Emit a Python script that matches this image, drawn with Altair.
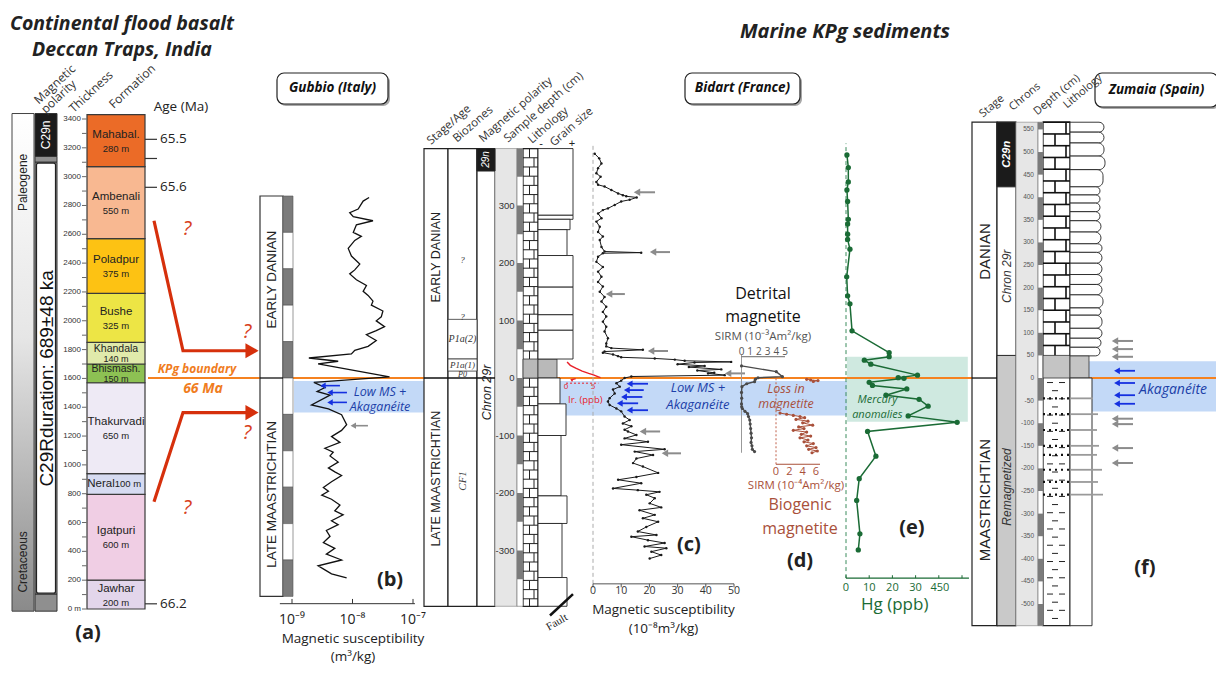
import altair as alt
import pandas as pd

# ======================= values =======================
# (a) Deccan Traps composite section, thickness in m
DECCAN_FORMATION = ["Jawhar", "Igatpuri", "Neral", "Thakurvadi", "Bhismash.",
                    "Khandala", "Bushe", "Poladpur", "Ambenali", "Mahabal."]
DECCAN_BASE_M = [0, 200, 795, 940, 1570, 1700, 1850, 2190, 2570, 3070]
DECCAN_TOP_M = [200, 795, 940, 1570, 1700, 1850, 2190, 2570, 3070, 3430]
DECCAN_THICK = ["200 m", "600 m", "100 m", "650 m", "150 m",
                "140 m", "325 m", "375 m", "550 m", "280 m"]
DECCAN_COLOR = ["#e3d6eb", "#f0cee4", "#d6dbf1", "#eeeaf5", "#8dc153",
                "#e0eaab", "#ede545", "#fdc213", "#f8b891", "#eb6b27"]
THICK_TICKS_M = list(range(0, 3401, 100))
THICK_LABELS_M = list(range(0, 3401, 200))
AGE_TICK_M = [3259, 3126, 2926, 36]
AGE_LABEL = ["65.5", "", "65.6", "66.2"]

# (b) Gubbio: height relative to KPg (m) and magnetic susceptibility (1e-9 m3/kg)
GUB_HEIGHT_M = [4.96, 4.86, 4.64, 4.54, 4.43, 4.32, 4.21, 4.00, 3.89, 3.78,
                3.56, 3.35, 3.13, 2.97, 2.86, 2.70, 2.54, 2.38, 2.27, 2.11,
                2.00, 1.84, 1.68, 1.57, 1.41, 1.30, 1.19, 1.14, 1.03, 0.87,
                0.76, 0.66, 0.55, 0.46, 0.39, 0.03, -0.12, -0.26, -0.37, -0.47,
                -0.74, -0.85, -1.01, -1.28, -1.44, -1.61, -1.77, -1.93, -2.04, -2.14,
                -2.31, -2.47, -2.58, -2.68, -2.85, -3.01, -3.11, -3.22, -3.33, -3.49,
                -3.65, -3.76, -3.92, -4.03, -4.19, -4.35, -4.52, -4.68, -4.84, -5.00,
                -5.16, -5.27, -5.38, -5.49]
GUB_MS_E9 = [18.8, 15.0, 12.4, 9.0, 10.3, 21.8, 11.6, 10.3, 14.0, 10.9,
             8.5, 9.6, 13.2, 10.9, 9.0, 11.6, 17.0, 15.0, 18.1, 21.8,
             20.5, 31.8, 29.9, 24.7, 33.9, 24.7, 17.0, 19.0, 24.7, 18.1,
             10.9, 9.6, 1.9, 5.8, 2.7, 40.9, 2.3, 3.5, 2.6, 4.25,
             2.1, 4.0, 6.6, 8.0, 6.6, 4.5, 6.2, 3.5, 4.8, 4.25,
             5.8, 4.0, 5.1, 6.6, 4.5, 3.3, 4.0, 3.1, 4.5, 6.2,
             5.1, 7.0, 4.5, 5.8, 3.7, 4.25, 3.3, 5.1, 3.7, 6.6,
             2.7, 3.5, 4.5, 8.0]

# (c) Bidart: sample depth (cm) and MS (1e-8 m3/kg)
BID_DEPTH_CM = [390, 382, 373, 365, 356, 350, 341, 336, 333, 327,
                321, 318, 316, 314, 310, 307, 301, 295, 292, 286,
                278, 272, 263, 254, 246, 240, 228, 220, 218, 217,
                211, 202, 193, 185, 176, 167, 159, 150, 141, 133,
                124, 115, 107, 98, 89, 81, 69, 60, 55, 52,
                49, 46, 44, 41, 38, 36, 34, 32, 30, 28,
                27, 24, 21, 19, 15, 13, 9, 8, 5, 2.6,
                0, -4.6, -9, -15, -20, -27, -35, -41, -47, -53,
                -58, -67, -73, -79, -84, -90, -93, -99, -105, -111,
                -116, -124, -128, -134, -140, -148, -154, -165, -172, -177,
                -183, -192, -195, -198, -203, -209, -218, -225, -230, -238,
                -244, -250, -259, -267, -273, -276, -282, -287, -293, -296,
                -302, -308, -314]
BID_MS = [0.6, 2.2, 3.0, 1.8, 1.2, 2.7, 1.2, 1.8, 4.1, 6.5,
          8.9, 10.6, 11.8, 15.5, 13.0, 10.0, 7.7, 5.3, 3.5, 1.8,
          3.0, 1.2, 2.4, 1.8, 3.5, 2.4, 3.0, 4.1, 17.1, 3.5,
          1.8, 1.2, 3.5, 1.8, 3.0, 1.8, 3.5, 2.4, 4.1, 3.0,
          4.7, 3.5, 4.7, 3.5, 4.7, 4.1, 5.3, 4.7, 4.7, 6.5,
          17.7, 4.1, 3.5, 7.1, 8.9, 10.0, 21.9, 29.0, 32.5, 49.0,
          36.0, 30.0, 39.6, 34.0, 45.5, 37.0, 43.0, 40.8, 46.7, 13.6,
          11.2, 10.0, 8.3, 9.5, 7.1, 7.7, 5.9, 5.3, 5.9, 8.3,
          10.0, 11.2, 13.0, 10.6, 13.6, 11.2, 12.4, 15.4, 11.2, 19.5,
          10.0, 25.4, 14.8, 21.3, 15.4, 14.2, 17.7, 23.1, 15.4, 8.9,
          17.1, 7.1, 15.9, 23.6, 18.9, 21.9, 20.1, 24.2, 16.5, 21.9,
          17.7, 23.1, 18.9, 15.9, 22.5, 13.6, 19.5, 25.4, 18.3, 26.0,
          20.7, 24.2, 20.1]

# Iridium (ppb) near the boundary
IR_DEPTH = [28, 22, 17, 12, 8, 5, 2, 0.5, -1, -3, -6]
IR_PPB = [0.2, 0.8, 1.8, 3.0, 4.2, 5.2, 6.0, 6.4, 1.8, 1.0, 1.2]
IR_GROUP = ["a"] * 8 + ["b"] * 3

# (d) SIRM of detrital (1e-3 Am2/kg) and biogenic (1e-4 Am2/kg) magnetite
DET_DEPTH = [21, 11, 2.3, 0.5, -2, -6.4, -10, -15, -25, -35, -45, -50, -53,
             -58, -62, -67, -73, -80, -88, -96, -104, -112, -118, -124, -128]
DET_SIRM = [0.0, 4.0, 4.7, 1.9, 1.6, 1.5, 0.6, 0.05, 0.0, 0.02, 0.0, 0.02, 0.1,
            0.4, 0.7, 0.8, 0.95, 1.0, 1.05, 1.1, 1.15, 1.1, 1.2, 1.25, 1.5]
BIO_DEPTH = [-2.3, -3.5, -4.5, -6, -61, -63, -65, -67, -69, -72, -75, -78, -82, -85,
             -88, -91, -94, -98, -101, -104, -108, -111, -114, -118, -121, -124, -127, -130]
BIO_SIRM = [4.6, 5.2, 6.3, 5.6, 0.6, 1.6, 2.6, 3.6, 4.3, 3.0, 4.8, 4.0, 5.5, 3.4,
            4.2, 2.6, 4.6, 3.8, 5.2, 3.6, 4.8, 4.2, 5.6, 4.6, 6.0, 4.9, 6.2, 5.4]
BIO_GROUP = ["top"] * 4 + ["low"] * 24

# (e) Hg (ppb)
HG_DEPTH = [388, 366, 341, 327, 307, 276, 268, 250, 241, 224, 176, 143, 129, 82,
            44, 37, 31, 24, 5, 0.6, -0.6, -7.5, -13, -19, -30, -37, -49, -66, -77,
            -93, -136, -175, -213, -271, -299]
HG_PPB = [0.4, 1.0, 1.0, 0.4, 0.7, 1.0, 0.7, 0.7, 0.7, 1.7, 0.3, 0.7, 1.7, 2.6,
          18.6, 18.6, 7.9, 10.7, 30.8, 22.5, 25.0, 10.0, 11.4, 26.2, 17.2, 31.5, 35.4, 26.8, 47.9,
          9.3, 12.9, 5.7, 4.6, 6.0, 5.3]

# arrows (tip value, tail value, depth)
G_BLUE_TIP, G_BLUE_TAIL, G_BLUE_H = [3.25, 4.25, 4.25], [6.2, 8.1, 8.1], [-0.21, -0.40, -0.67]
G_GRAY_TIP, G_GRAY_TAIL, G_GRAY_H = [10.3], [18.0], [-1.31]
C_GRAY_TIP = [15.6, 21.3, 5.7, 20.6, 47.9, 17.7, 25.5]
C_GRAY_TAIL = [22.0, 27.3, 11.3, 26.6, 53.9, 23.8, 31.2]
C_GRAY_D = [323, 219, 146, 47, 8, -93, -131]
C_BLUE_TIP = [13, 12, 11, 9.5, 13]
C_BLUE_TAIL = [19.5, 18, 17.5, 16, 19.5]
C_BLUE_D = [-10, -21, -33, -44, -56]
Z_GRAY_D = [82, 64, 47, -90, -102, -155, -188]
Z_BLUE_D = [16, -11, -38, -57]

# stratigraphic columns
GUB_POL_TOP = [5, 4, 3, 2, 1, 0, -1, -2, -3, -4, -5]
BID_BAR_TOP = [399, 300, 200, 100, 0, -100, -200, -300]
BID_BAR_BASE = [350, 250, 150, 50, -50, -150, -250, -350]
BID_GRAIN_TOP = [399, 283, 276, 258, 213, 158, 110, 83, 0, -45, -100, -205, -253, -347]
BID_GRAIN_BASE = [283, 276, 258, 213, 158, 110, 83, 33, -45, -100, -205, -253, -347, -397]
BID_GRAIN_EDGE = [573, 573, 570, 567, 573, 573, 573, 573, 560, 566, 561, 567, 562, 567]
BID_DEPTH_LABELS = [300, 200, 100, 0, -100, -200, -300]
ZUM_BAR_TOP = [566, 500, 400, 300, 200, 100, 0, -100, -200, -300, -400, -500]
ZUM_BAR_BASE = [550, 450, 350, 250, 150, 50, -50, -150, -250, -350, -450, -548]
ZUM_BED_TOP = [566, 544, 520, 491, 461, 423, 405, 387, 368, 348, 323, 297, 278, 254,
               229, 207, 184, 155, 139, 110, 88, 68]
ZUM_BED_BASE = [544, 520, 491, 461, 423, 405, 387, 368, 348, 323, 297, 278, 254, 229,
                207, 184, 155, 139, 110, 88, 68, 49]
ZUM_BED_EDGE = [1104, 1104, 1104, 1105, 1103, 1100, 1100, 1100, 1100, 1101, 1101, 1102,
                1102, 1102, 1102, 1102, 1103, 1101, 1102, 1102, 1101, 1100]
ZUM_THIN_BEDS = [-45, -80, -115, -150, -170, -203, -230, -258]
ZUM_THIN_EDGE = [1093, 1098, 1097, 1099, 1097, 1102, 1098, 1103]
ZUM_DEPTH_LABELS = list(range(550, -501, -50))

# ======================= helpers =======================
def P(v):
    return v - 8


def sc(dom, rng, typ="linear"):
    return alt.Scale(type=typ, domain=list(dom), range=[P(rng[0]), P(rng[1])],
                     nice=False, zero=False)


TX = sc([0, 1224], [0, 1224])          # track positions across the figure
YA = sc([0, 3400], [609, 119])         # Deccan thickness (m)
YG = sc([-6, 5], [596.4, 196])         # Gubbio height (m)
YB = sc([-400, 400], [608, 148])       # Bidart depth (cm)
YZ = sc([-550, 570], [626.6, 120.4])   # Zumaia depth (cm)
XG = sc([1, 100], [292, 413], "log")   # MS Gubbio (1e-9)
XC = sc([0, 50], [593, 734])           # MS Bidart
XD1 = sc([0, 5], [741.5, 785])         # SIRM detrital
XD2 = sc([0, 6], [776, 816])           # SIRM biogenic
XE = sc([0, 50], [846, 962])           # Hg
XIR = sc([0, 5], [566, 593])           # Ir

OPEN = "Open Sans"
ARIAL = "Liberation Sans"
SERIF = "Liberation Serif"


def _x(f, s):
    return alt.X(f"{f}:Q", scale=s, axis=None)


def _y(f, s):
    return alt.Y(f"{f}:Q", scale=s, axis=None)


def rects(df, xs, ys, **mk):
    enc = dict(x=_x("x", xs), x2=alt.X2("x2:Q"), y=_y("y", ys), y2=alt.Y2("y2:Q"))
    if "fill" in df.columns:
        enc["fill"] = alt.Fill("fill:N", scale=None)
    return alt.Chart(df).mark_rect(**mk).encode(**enc)


def rules(df, xs, ys, **mk):
    enc = dict(x=_x("x", xs), y=_y("y", ys))
    if "x2" in df.columns:
        enc["x2"] = alt.X2("x2:Q")
    if "y2" in df.columns:
        enc["y2"] = alt.Y2("y2:Q")
    return alt.Chart(df).mark_rule(**mk).encode(**enc)


def lines(df, xs, ys, **mk):
    enc = dict(x=_x("x", xs), y=_y("y", ys), order=alt.Order("i:Q"))
    if "g" in df.columns:
        enc["detail"] = alt.Detail("g:N")
    return alt.Chart(df).mark_line(**mk).encode(**enc)


def dots(df, xs, ys, **mk):
    return alt.Chart(df).mark_point(**mk).encode(x=_x("x", xs), y=_y("y", ys))


def texts(df, xs, ys, **mk):
    enc = dict(x=_x("x", xs), y=_y("y", ys), text=alt.Text("t:N"))
    if "s" in df.columns:
        enc["size"] = alt.Size("s:Q", scale=None)
    if "a" in df.columns:
        enc["angle"] = alt.Angle("a:Q", scale=None)
    return alt.Chart(df).mark_text(**mk).encode(**enc)


def D(**cols):
    return pd.DataFrame(cols)


def arrows(tips, tails, yv, xs, ys, color, width=1.6, head=45):
    df = D(x=tips, x2=tails, y=yv)
    return [rules(df, xs, ys, color=color, strokeWidth=width),
            dots(D(x=tips, y=yv), xs, ys, shape="triangle-left", filled=True,
                 size=head, color=color, opacity=1, strokeWidth=0)]


def profile(xv, yv, xs, ys, color, width=1.0, pt=0, group=None):
    d = D(x=xv, y=yv, i=list(range(len(xv))))
    if group is not None:
        d["g"] = group
    out = [lines(d, xs, ys, color=color, strokeWidth=width)]
    if pt:
        out.append(dots(d[["x", "y"]], xs, ys, filled=True, size=pt, color=color,
                        opacity=1, strokeWidth=0, shape="circle"))
    return out


L = []

# ======================= background bands =======================
L.append(rects(D(x=[294], x2=[425], y=[-0.95], y2=[-0.08], fill=["#c3d9f7"]), TX, YG))
L.append(rects(D(x=[548], x2=[847], y=[-65], y2=[-5], fill=["#c3d9f7"]), TX, YB))
L.append(rects(D(x=[0.4], x2=[52.5], y=[-76], y2=[37], fill=["#cfe9e0"]), XE, YB))
L.append(rects(D(x=[1088], x2=[1217], y=[-74], y2=[37], fill=["#c3d9f7"]), TX, YZ))

# KPg boundary line
L.append(rules(D(x=[148], x2=[1217], y=[0]), TX, YB, color="#f58220", strokeWidth=1.8))

# ======================= (a) Deccan Traps =======================
grad = alt.LinearGradient(gradient="linear",
                          stops=[alt.GradientStop(color="#ffffff", offset=0),
                                 alt.GradientStop(color="#e6e6e6", offset=0.45),
                                 alt.GradientStop(color="#8a8a8a", offset=1)],
                          x1=0, x2=0, y1=0, y2=1)
L.append(alt.Chart(D(x=[12], x2=[34], y=[-15], y2=[3438])).mark_rect(
    fill=grad, stroke="#444", strokeWidth=1).encode(
    x=_x("x", TX), x2=alt.X2("x2:Q"), y=_y("y", YA), y2=alt.Y2("y2:Q")))
L.append(rects(D(x=[35] * 4, x2=[57] * 4, y=[3140, 3100, -15, 104], y2=[3438, 3140, 104, 3100],
                 fill=["#1b1b1b", "#8f8f8f", "#8f8f8f", "#8f8f8f"]), TX, YA,
               stroke="#333", strokeWidth=1))
L.append(rects(D(x=[36.5], x2=[55.5], y=[110], y2=[3094], fill=["#ffffff"]), TX, YA,
               stroke="#222", strokeWidth=1.2, cornerRadius=2))
L.append(rects(D(x=[87] * 10, x2=[145] * 10, y=DECCAN_BASE_M, y2=DECCAN_TOP_M,
                 fill=DECCAN_COLOR), TX, YA, stroke="#3a3a3a", strokeWidth=1.2))

name_rows, thick_rows = [], []
for n, b, t, th in zip(DECCAN_FORMATION, DECCAN_BASE_M, DECCAN_TOP_M, DECCAN_THICK):
    mid = (b + t) / 2
    if n == "Neral":
        name_rows.append((101, mid, n, 11.5))
        thick_rows.append((128, mid, th, 9.5))
    elif t - b < 200:
        name_rows.append((116, mid + 30, n, 10.5))
        thick_rows.append((116, mid - 40, th, 9))
    else:
        name_rows.append((116, mid + 42, n, 11.5))
        thick_rows.append((116, mid - 55, th, 9.5))
L.append(texts(pd.DataFrame(name_rows, columns=["x", "y", "t", "s"]), TX, YA,
               font=ARIAL, color="#222"))
L.append(texts(pd.DataFrame(thick_rows, columns=["x", "y", "t", "s"]), TX, YA,
               font=ARIAL, color="#222"))

L.append(rules(D(x=[82] * len(THICK_TICKS_M), x2=[86.5] * len(THICK_TICKS_M), y=THICK_TICKS_M),
               TX, YA, color="#555", strokeWidth=0.9))
L.append(texts(D(x=[81] * len(THICK_LABELS_M), y=THICK_LABELS_M,
                 t=["0 m" if v == 0 else str(v) for v in THICK_LABELS_M]),
               TX, YA, align="right", fontSize=8, font=ARIAL, color="#333"))
L.append(rules(D(x=[145] * 4, x2=[157] * 4, y=AGE_TICK_M), TX, YA, color="#333", strokeWidth=1.2))
L.append(texts(D(x=[160] * 3, y=[AGE_TICK_M[i] for i in (0, 2, 3)],
                 t=[AGE_LABEL[i] for i in (0, 2, 3)]), TX, YA,
               align="left", fontSize=13.5, font=OPEN, color="#222"))
L.append(texts(D(x=[181], y=[3480], t=["Age (Ma)"]), TX, YA, fontSize=13.5, font=OPEN, color="#222"))
L.append(texts(D(x=[23, 23], y=[2960, 327], t=["Paleogene", "Cretaceous"]), TX, YA,
               angle=270, fontSize=12, font=ARIAL, color="#222"))
L.append(texts(D(x=[46], y=[3290], t=["C29n"]), TX, YA, angle=270, fontSize=12, font=ARIAL, color="white"))
L.append(texts(D(x=[46.5], y=[1600], t=["C29Rduration: 689±48 ka"]), TX, YA, angle=270,
               fontSize=19, font=ARIAL, color="#111"))
L.append(texts(D(x=[36, 43, 71, 111], y=[3520, 3455, 3460, 3490],
                 t=["Magnetic", "polarity", "Thickness", "Formation"]), TX, YA,
               angle=317, align="left", fontSize=12, font=OPEN, color="#333"))
L.append(texts(D(x=[197], y=[1667], t=["KPg boundary"]), TX, YA, fontSize=12,
               font=OPEN, fontWeight="bold", fontStyle="italic", color="#f07d1e"))
L.append(texts(D(x=[203], y=[1525], t=["66 Ma"]), TX, YA, fontSize=14,
               font=OPEN, fontWeight="bold", fontStyle="italic", color="#f07d1e"))
L += profile([154, 183, 249, 154, 183, 249], [2694, 1792, 1792, 744, 1363, 1363], TX, YA,
             "#d6300c", width=3.2, group=["u", "u", "u", "l", "l", "l"])
L.append(dots(D(x=[252, 252], y=[1792, 1363]), TX, YA, shape="triangle-right", filled=True,
              size=230, color="#d6300c", opacity=1, strokeWidth=0))
L.append(texts(D(x=[187, 247, 247, 187], y=[2635, 1920, 1220, 700], t=["?"] * 4), TX, YA,
               fontSize=20, font=OPEN, fontStyle="italic", color="#d8401c"))
L.append(texts(D(x=[122, 122], y=[4060, 3877],
                 t=["Continental flood basalt", "Deccan Traps, India"]), TX, YA,
               fontSize=19.5, font=OPEN, fontWeight="bold", fontStyle="italic", color="#222"))
L.append(texts(D(x=[88], y=[-165], t=["(a)"]), TX, YA, fontSize=20, font=OPEN,
               fontWeight="bold", color="#222"))

# ======================= (b) Gubbio =======================
L.append(rects(D(x=[260], x2=[283], y=[-6], y2=[5], fill=["#ffffff"]), TX, YG,
               stroke="#333", strokeWidth=1.2))
L.append(rects(D(x=[283] * 11, x2=[293] * 11, y=[t - 1 for t in GUB_POL_TOP], y2=GUB_POL_TOP,
                 fill=["#7b7b7b" if k % 2 == 0 else "#ffffff" for k in range(11)]), TX, YG,
               stroke="#555", strokeWidth=0.6))
L.append(rules(D(x=[260], x2=[283], y=[0]), TX, YG, color="#111", strokeWidth=1.3))
L.append(texts(D(x=[271.5, 271.5], y=[2.7, -3.2], t=["EARLY DANIAN", "LATE MAASTRICHTIAN"]),
               TX, YG, angle=270, fontSize=13.5, font=ARIAL, color="#222"))
L += profile([v for v in GUB_MS_E9], GUB_HEIGHT_M, XG, YG, "#111", width=1.3)
L += arrows(G_BLUE_TIP, G_BLUE_TAIL, G_BLUE_H, XG, YG, "#1530e0", width=1.6, head=40)
L += arrows(G_GRAY_TIP, G_GRAY_TAIL, G_GRAY_H, XG, YG, "#8c8c8c", width=1.6, head=40)
L.append(texts(D(x=[380, 380], y=[-0.38, -0.80], t=["Low MS +", "Akaganéite"]), TX, YG,
               fontSize=12.5, font=OPEN, fontStyle="italic", color="#1c3fa8"))
L.append(texts(D(x=[390], y=[-5.54], t=["(b)"]), TX, YG, fontSize=20, font=OPEN,
               fontWeight="bold", color="#222"))
L.append(rules(D(x=[0.63], x2=[107.7], y=[-6.2]), XG, YG, color="#333", strokeWidth=1))
L.append(rules(D(x=[1, 10, 100], y=[-6.2] * 3, y2=[-6.07] * 3), XG, YG, color="#333", strokeWidth=1))
L.append(texts(D(x=[1, 10, 100], y=[-6.65] * 3, t=["10⁻⁹", "10⁻⁸", "10⁻⁷"]), XG, YG,
               fontSize=14, font=OPEN, color="#222"))
L.append(texts(D(x=[353, 353], y=[-7.17, -7.66], t=["Magnetic susceptibility", "(m³/kg)"]),
               TX, YG, fontSize=13.5, font=OPEN, color="#222"))

# title boxes (Bidart depth scale used as vertical track above the sections)
BOX_X = [277, 685, 1095]
BOX_X2 = [388, 800, 1218]
BOX_Y = [476.5, 476.5, 471.3]
BOX_Y2 = [530.4, 530.4, 530.4]
L.append(rects(D(x=[v + 2 for v in BOX_X], x2=[v + 2 for v in BOX_X2], y=[v - 3.5 for v in BOX_Y],
                 y2=[v - 3.5 for v in BOX_Y2], fill=["#a8a8a8"] * 3), TX, YB, cornerRadius=7))
L.append(rects(D(x=BOX_X, x2=BOX_X2, y=BOX_Y, y2=BOX_Y2, fill=["#ffffff"] * 3), TX, YB,
               cornerRadius=7, stroke="#222", strokeWidth=1.2))
L.append(texts(D(x=[332.5, 742.5, 1156.5], y=[503.5, 503.5, 501],
                 t=["Gubbio (Italy)", "Bidart (France)", "Zumaia (Spain)"]), TX, YB,
               fontSize=13.5, font=OPEN, fontWeight="bold", fontStyle="italic", color="#111"))
L.append(texts(D(x=[845], y=[601.7], t=["Marine KPg sediments"]), TX, YB,
               fontSize=20, font=OPEN, fontWeight="bold", fontStyle="italic", color="#222"))

# ======================= Bidart stratigraphic log =======================
L.append(rects(D(x=[424, 448, 477, 523], x2=[448, 477, 495, 538], y=[-397] * 4, y2=[399] * 4,
                 fill=["#ffffff"] * 4), TX, YB, stroke="#222", strokeWidth=1.2))
L.append(rects(D(x=[495], x2=[517], y=[-397], y2=[399], fill=["#e6e6e6"]), TX, YB,
               stroke="#999", strokeWidth=0.8))
L.append(rects(D(x=[517], x2=[523], y=[-397], y2=[399], fill=["#ffffff"]), TX, YB,
               stroke="#666", strokeWidth=0.6))
L.append(rects(D(x=[517] * len(BID_BAR_TOP), x2=[523] * len(BID_BAR_TOP), y=BID_BAR_BASE,
                 y2=BID_BAR_TOP, fill=["#7b7b7b"] * len(BID_BAR_TOP)), TX, YB))
L.append(rects(D(x=[477], x2=[495], y=[360], y2=[399], fill=["#1b1b1b"]), TX, YB,
               stroke="#222", strokeWidth=1))
L.append(rects(D(x=[448, 448], x2=[477, 477], y=[33, 12], y2=[102, 33], fill=["#ffffff"] * 2),
               TX, YB, stroke="#333", strokeWidth=0.8))
L.append(rules(D(x=[424], x2=[495], y=[0]), TX, YB, color="#111", strokeWidth=1.3))
# limestone bricks
brick_h, brick_v = [], []
for seg_top, seg_bot in ((399, 33), (0, -397)):
    rows = list(range(seg_top, seg_bot, -16))
    for k, top in enumerate(rows):
        bot = rows[k + 1] if k + 1 < len(rows) else seg_bot
        brick_h.append((523, 538, top))
        xv = 529.5 if k % 2 == 0 else 534
        brick_v.append((xv, top, bot))
L.append(rules(pd.DataFrame(brick_h, columns=["x", "x2", "y"]), TX, YB, color="#222", strokeWidth=1))
L.append(rules(pd.DataFrame(brick_v, columns=["x", "y", "y2"]), TX, YB, color="#222", strokeWidth=1))
L.append(rects(D(x=[523, 538], x2=[538, 557], y=[0, 0], y2=[33, 33], fill=["#b9b9b9"] * 2), TX, YB,
               stroke="#333", strokeWidth=0.8))
L.append(rects(D(x=[538] * len(BID_GRAIN_TOP), x2=BID_GRAIN_EDGE, y=BID_GRAIN_BASE,
                 y2=BID_GRAIN_TOP, fill=["#ffffff"] * len(BID_GRAIN_TOP)), TX, YB,
               stroke="#222", strokeWidth=0.9))
L.append(texts(D(x=[436, 436], y=[210, -175], t=["EARLY DANIAN", "LATE MAASTRICHTIAN"]), TX, YB,
               angle=270, fontSize=12.5, font=ARIAL, color="#222"))
L.append(texts(D(x=[462.5] * 5, y=[205, 106, 68, 23, 5], t=["?", "?", "P1a(2)", "P1a(1)", "P0"],
                 s=[9, 9, 10, 9, 8]), TX, YB, font=SERIF, fontStyle="italic", color="#333"))
L.append(texts(D(x=[462.5], y=[-179], t=["CF1"]), TX, YB, angle=270, fontSize=11, font=SERIF,
               fontStyle="italic", color="#444"))
L.append(texts(D(x=[486], y=[380], t=["29n"]), TX, YB, angle=270, fontSize=10, font=ARIAL,
               fontStyle="italic", color="white"))
L.append(texts(D(x=[486.5], y=[-25], t=["Chron 29r"]), TX, YB, angle=270, fontSize=12.5,
               font=ARIAL, fontStyle="italic", color="#222"))
L.append(texts(D(x=[514.5] * len(BID_DEPTH_LABELS), y=BID_DEPTH_LABELS,
                 t=[str(v) for v in BID_DEPTH_LABELS]), TX, YB, align="right", fontSize=9.5,
               font=ARIAL, color="#333"))
L.append(texts(D(x=[541, 572], y=[407, 407], t=["-", "+"]), TX, YB, fontSize=11, font=ARIAL, color="#222"))
L.append(texts(D(x=[429, 455, 481, 506, 530, 552], y=[409, 413, 413, 413, 411, 406],
                 t=["Stage/Age", "Biozones", "Magnetic polarity", "Sample depth (cm)",
                    "Lithology", "Grain size"]), TX, YB, angle=319, align="left", fontSize=11.5,
               font=OPEN, color="#333"))
L.append(rules(D(x=[550], x2=[573], y=[-413], y2=[-376]), TX, YB, color="#111", strokeWidth=2.5))
L.append(texts(D(x=[557], y=[-425], t=["Fault"]), TX, YB, angle=330, fontSize=11, font=SERIF, color="#222"))
# iridium
L += profile(IR_PPB, IR_DEPTH, XIR, YB, "#e8202a", width=1.4, group=IR_GROUP)
L.append(rules(D(x=[0], x2=[6], y=[-9]), XIR, YB, color="#e8202a", strokeWidth=1, strokeDash=[2, 2]))
L.append(texts(D(x=[0, 5], y=[-16, -16], t=["0", "5"]), XIR, YB, fontSize=8, font=OPEN, color="#e8202a"))
L.append(texts(D(x=[568], y=[-39], t=["Ir. (ppb)"]), TX, YB, align="left", fontSize=9.5, font=OPEN,
               color="#e8202a"))

# ======================= (c) Bidart MS =======================
L.append(rules(D(x=[0], y=[-358], y2=[408]), XC, YB, color="#aaaaaa", strokeWidth=1, strokeDash=[4, 3]))
L += profile(BID_MS, BID_DEPTH_CM, XC, YB, "#1a1a1a", width=1.0, pt=6)
L += arrows(C_GRAY_TIP, C_GRAY_TAIL, C_GRAY_D, XC, YB, "#8c8c8c", width=2, head=55)
L += arrows(C_BLUE_TIP, C_BLUE_TAIL, C_BLUE_D, XC, YB, "#1530e0", width=1.8, head=45)
L.append(texts(D(x=[37.2, 37.2], y=[-18, -47], t=["Low MS +", "Akaganéite"]), XC, YB,
               fontSize=13, font=OPEN, fontStyle="italic", color="#1c3fa8"))
L.append(rules(D(x=[0], x2=[50], y=[-358]), XC, YB, color="#555", strokeWidth=1))
L.append(rules(D(x=[0, 10, 20, 30, 40, 50], y=[-358] * 6, y2=[-364] * 6), XC, YB, color="#555", strokeWidth=1))
L.append(texts(D(x=[0, 10, 20, 30, 40, 50], y=[-371] * 6, t=["0", "10", "20", "30", "40", "50"]),
               XC, YB, fontSize=10.5, font=OPEN, color="#333"))
L.append(texts(D(x=[25, 25], y=[-404, -437], t=["Magnetic susceptibility", "(10⁻⁸m³/kg)"]), XC, YB,
               fontSize=13.5, font=OPEN, color="#222"))
L.append(texts(D(x=[34], y=[-290], t=["(c)"]), XC, YB, fontSize=20, font=OPEN, fontWeight="bold", color="#222"))

# ======================= (d) SIRM =======================
L.append(rules(D(x=[0], y=[-130], y2=[40]), XD1, YB, color="#999", strokeWidth=1))
L.append(rules(D(x=[0], x2=[5], y=[37]), XD1, YB, color="#666", strokeWidth=1))
L.append(texts(D(x=[0, 1, 2, 3, 4, 5], y=[46] * 6, t=["0", "1", "2", "3", "4", "5"]), XD1, YB,
               fontSize=10, font=OPEN, color="#555"))
L += profile(DET_SIRM, DET_DEPTH, XD1, YB, "#4a4a4a", width=1.4, pt=10)
L.append(rules(D(x=[0], y=[-150], y2=[2]), XD2, YB, color="#c0604a", strokeWidth=1, strokeDash=[2, 2]))
L.append(rules(D(x=[0], x2=[6.6], y=[-150]), XD2, YB, color="#a9503a", strokeWidth=1))
L.append(texts(D(x=[0, 2, 4, 6], y=[-163] * 4, t=["0", "2", "4", "6"]), XD2, YB,
               fontSize=11, font=OPEN, color="#a9503a"))
L += profile(BIO_SIRM, BIO_DEPTH, XD2, YB, "#a9503a", width=1.0, pt=10, group=BIO_GROUP)
L.append(texts(D(x=[763, 763], y=[146, 106], t=["Detrital", "magnetite"]), TX, YB,
               fontSize=16, font=OPEN, color="#111"))
L.append(texts(D(x=[763], y=[71], t=["SIRM (10⁻³Am²/kg)"]), TX, YB, fontSize=11.5, font=OPEN, color="#555"))
L.append(texts(D(x=[786, 786], y=[-19, -46], t=["Loss in", "magnetite"]), TX, YB,
               fontSize=12.5, font=OPEN, fontStyle="italic", color="#a9503a"))
L.append(texts(D(x=[796], y=[-187], t=["SIRM (10⁻⁴Am²/kg)"]), TX, YB, fontSize=11.5, font=OPEN, color="#a9503a"))
L.append(texts(D(x=[800, 800], y=[-221, -262], t=["Biogenic", "magnetite"]), TX, YB,
               fontSize=16, font=OPEN, color="#a9503a"))
L.append(texts(D(x=[800], y=[-318], t=["(d)"]), TX, YB, fontSize=20, font=OPEN, fontWeight="bold", color="#222"))

# ======================= (e) Hg =======================
L.append(rules(D(x=[0], y=[-348], y2=[408]), XE, YB, color="#3b8c5c", strokeWidth=1, strokeDash=[4, 3]))
L.append(rules(D(x=[0], x2=[53], y=[-348]), XE, YB, color="#1a6b35", strokeWidth=1.2))
L.append(rules(D(x=[0, 10, 20, 30, 40, 50], y=[-348] * 6, y2=[-343] * 6), XE, YB, color="#1a6b35", strokeWidth=1))
L.append(texts(D(x=[0, 10, 20, 30, 40.5], y=[-366] * 5, t=["0", "10", "20", "30", "450"]), XE, YB,
               fontSize=11, font=OPEN, color="#1a6b35"))
L.append(texts(D(x=[21], y=[-395], t=["Hg (ppb)"]), XE, YB, fontSize=17, font=OPEN, color="#1a6b35"))
L += profile(HG_PPB, HG_DEPTH, XE, YB, "#1a6b35", width=1.5, pt=28)
L.append(texts(D(x=[13.5, 13.5], y=[-38, -64], t=["Mercury", "anomalies"]), XE, YB,
               fontSize=11, font=OPEN, fontStyle="italic", color="#1a6b35"))
L.append(texts(D(x=[28.4], y=[-261], t=["(e)"]), XE, YB, fontSize=20, font=OPEN, fontWeight="bold", color="#222"))

# ======================= (f) Zumaia =======================
L.append(rects(D(x=[972, 997, 1043], x2=[997, 1016, 1070], y=[-548] * 3, y2=[566] * 3,
                 fill=["#ffffff"] * 3), TX, YZ, stroke="#222", strokeWidth=1.2))
L.append(rects(D(x=[997, 997], x2=[1016, 1016], y=[423, -548], y2=[566, 50], fill=["#1b1b1b", "#c9c9c9"]),
               TX, YZ, stroke="#222", strokeWidth=1))
L.append(rects(D(x=[1016], x2=[1038], y=[-548], y2=[566], fill=["#e6e6e6"]), TX, YZ, stroke="#999", strokeWidth=0.8))
L.append(rects(D(x=[1038], x2=[1043], y=[-548], y2=[566], fill=["#ffffff"]), TX, YZ, stroke="#666", strokeWidth=0.6))
L.append(rects(D(x=[1038] * len(ZUM_BAR_TOP), x2=[1043] * len(ZUM_BAR_TOP), y=ZUM_BAR_BASE, y2=ZUM_BAR_TOP,
                 fill=["#7b7b7b"] * len(ZUM_BAR_TOP)), TX, YZ))
L.append(rules(D(x=[972], x2=[997], y=[0]), TX, YZ, color="#111", strokeWidth=1.3))
# bricks above, marl dashes below
zb_h, zb_v = [], []
zrows = list(range(566, 50, -26))
for k, top in enumerate(zrows):
    bot = zrows[k + 1] if k + 1 < len(zrows) else 50
    zb_h.append((1043, 1070, top))
    zb_v.append((1066 if k % 2 == 0 else 1055, top, bot))
L.append(rules(pd.DataFrame(zb_h, columns=["x", "x2", "y"]), TX, YZ, color="#111", strokeWidth=1.6))
L.append(rules(pd.DataFrame(zb_v, columns=["x", "y", "y2"]), TX, YZ, color="#111", strokeWidth=1.6))
dash_rows = []
for k, d in enumerate(range(-10, -548, -18)):
    if k % 2 == 0:
        dash_rows += [(1047, 1053, d), (1059, 1065, d)]
    else:
        dash_rows.append((1052, 1058, d))
L.append(rules(pd.DataFrame(dash_rows, columns=["x", "x2", "y"]), TX, YZ, color="#222", strokeWidth=1))
L.append(rects(D(x=[1043, 1070], x2=[1070, 1089], y=[0, 0], y2=[50, 50], fill=["#c4c4c4"] * 2), TX, YZ,
               stroke="#333", strokeWidth=0.8))
L.append(rects(D(x=[1070], x2=[1092], y=[-548], y2=[0], fill=["#ffffff"]), TX, YZ, stroke="#333", strokeWidth=1))
L.append(rules(D(x=[1070] * len(ZUM_THIN_BEDS), x2=ZUM_THIN_EDGE, y=ZUM_THIN_BEDS), TX, YZ,
               color="#9a9a9a", strokeWidth=1.8))
L.append(rules(D(x=[1043] * len(ZUM_THIN_BEDS), x2=[1070] * len(ZUM_THIN_BEDS), y=ZUM_THIN_BEDS), TX, YZ,
               color="#111", strokeWidth=2.2, strokeDash=[2, 4]))
L.append(rects(D(x=[1070] * len(ZUM_BED_TOP), x2=ZUM_BED_EDGE, y=ZUM_BED_BASE, y2=ZUM_BED_TOP,
                 fill=["#ffffff"] * len(ZUM_BED_TOP)), TX, YZ, stroke="#222", strokeWidth=0.9,
               cornerRadiusTopRight=6, cornerRadiusBottomRight=6))
L.append(texts(D(x=[1034] * len(ZUM_DEPTH_LABELS), y=ZUM_DEPTH_LABELS, t=[str(v) for v in ZUM_DEPTH_LABELS]),
               TX, YZ, align="right", fontSize=6.5, font=ARIAL, color="#555"))
L.append(texts(D(x=[985, 985], y=[280, -270], t=["DANIAN", "MAASTRICHTIAN"]), TX, YZ, angle=270,
               fontSize=15, font=ARIAL, color="#222"))
L.append(texts(D(x=[1006.5], y=[495], t=["C29n"]), TX, YZ, angle=270, fontSize=11, font=ARIAL,
               fontWeight="bold", fontStyle="italic", color="white"))
L.append(texts(D(x=[1006.5, 1006.5], y=[225, -241], t=["Chron 29r", "Remagnetized"]), TX, YZ, angle=270,
               fontSize=12, font=ARIAL, fontStyle="italic", color="#333"))
L.append(texts(D(x=[992, 1025, 1057, 1083], y=[601, 622, 626, 634],
                 t=["Stage", "Chrons", "Depth (cm)", "Lithology"]), TX, YZ, angle=320,
               fontSize=11, font=OPEN, color="#333"))
L += arrows([1115] * len(Z_GRAY_D), [1133] * len(Z_GRAY_D), Z_GRAY_D, TX, YZ, "#8c8c8c", width=2, head=55)
L += arrows([1117] * len(Z_BLUE_D), [1135] * len(Z_BLUE_D), Z_BLUE_D, TX, YZ, "#1530e0", width=1.8, head=45)
L.append(texts(D(x=[1173], y=[-27], t=["Akaganéite"]), TX, YZ, fontSize=14, font=OPEN,
               fontStyle="italic", color="#1c3fa8"))
L.append(texts(D(x=[1145], y=[-420], t=["(f)"]), TX, YZ, fontSize=20, font=OPEN, fontWeight="bold", color="#222"))

chart = (alt.layer(*L)
         .resolve_scale(x="independent", y="independent")
         .properties(width=1208, height=658, autosize="none", padding=0, background="white")
         .configure_view(stroke=None))

chart.save("out.html", embed_options={"renderer": "svg", "actions": False})
